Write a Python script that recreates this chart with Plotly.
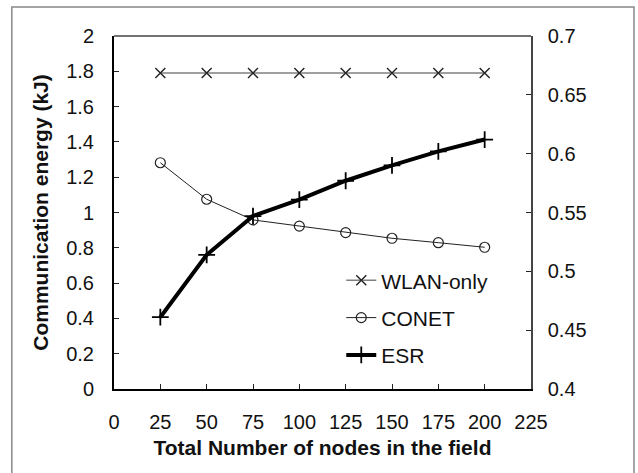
import plotly.graph_objects as go

nodes = [25, 50, 75, 100, 125, 150, 175, 200]
wlan_only = [1.79, 1.79, 1.79, 1.79, 1.79, 1.79, 1.79, 1.79]
conet = [1.282, 1.075, 0.958, 0.923, 0.886, 0.854, 0.829, 0.803]
esr = [0.461, 0.514, 0.547, 0.561, 0.577, 0.590, 0.602, 0.612]

x_ticks = [0, 25, 50, 75, 100, 125, 150, 175, 200, 225]
left_ticks = [0, 0.2, 0.4, 0.6, 0.8, 1.0, 1.2, 1.4, 1.6, 1.8, 2.0]
left_labels = ["0", "0.2", "0.4", "0.6", "0.8", "1", "1.2", "1.4", "1.6", "1.8", "2"]
right_ticks = [0.4, 0.45, 0.5, 0.55, 0.6, 0.65, 0.7]
right_labels = ["0.4", "0.45", "0.5", "0.55", "0.6", "0.65", "0.7"]

FONT = "Liberation Sans, Arial, sans-serif"

fig = go.Figure()
fig.add_trace(go.Scatter(
    x=nodes, y=wlan_only, name="WLAN-only", mode="lines+markers", legendgroup="a",
    line=dict(color="#7f7f7f", width=1.6),
    marker=dict(symbol="x-thin", size=10, line=dict(color="#222", width=1.4)),
))
fig.add_trace(go.Scatter(
    x=nodes, y=conet, name="CONET", mode="lines+markers", legendgroup="b",
    line=dict(color="#222", width=1),
    marker=dict(symbol="circle-open", size=10, color="#222", line=dict(width=1.2)),
))
fig.add_trace(go.Scatter(
    x=nodes, y=esr, name="ESR", mode="lines+markers", yaxis="y2", legendgroup="c",
    line=dict(color="#000", width=4),
    marker=dict(symbol="cross-thin", size=12, line=dict(color="#000", width=1.8)),
))

fig.update_layout(
    width=638, height=473,
    margin=dict(l=114, r=107, t=36, b=84),
    paper_bgcolor="white", plot_bgcolor="white",
    font=dict(family=FONT, size=20, color="#111"),
    showlegend=True,
    legend=dict(x=0.545, y=0.365, xanchor="left", yanchor="top",
                bgcolor="rgba(0,0,0,0)", font=dict(size=21, color="#111"),
                itemwidth=30, tracegroupgap=7),
    xaxis=dict(range=[0, 225], tickvals=x_ticks, showgrid=False, zeroline=False,
               showline=True, linecolor="#000", linewidth=2,
               ticks="inside", ticklen=5, tickcolor="#222", ticklabelstandoff=14,
               tickfont=dict(size=20),
               title=dict(text="<b>Total Number of nodes in the field</b>", standoff=8,
                          font=dict(size=21))),
    yaxis=dict(range=[0, 2], tickvals=left_ticks, ticktext=left_labels, showgrid=False,
               zeroline=False, showline=True, linecolor="#000", linewidth=2,
               ticks="inside", ticklen=5, tickcolor="#222", ticklabelstandoff=14,
               tickfont=dict(size=20),
               title=dict(text="<b>Communication energy (kJ)</b>", standoff=12,
                          font=dict(size=21))),
    yaxis2=dict(range=[0.4, 0.7], tickvals=right_ticks, ticktext=right_labels,
                overlaying="y", side="right", showgrid=False, zeroline=False,
                showline=True, linecolor="#444", linewidth=1.5,
                ticks="inside", ticklen=5, tickcolor="#222", ticklabelstandoff=11,
                tickfont=dict(size=20)),
    shapes=[
        dict(type="line", xref="paper", yref="paper", x0=0, x1=1, y0=1, y1=1,
             line=dict(color="#444", width=1.5)),
        dict(type="rect", xref="paper", yref="paper",
             x0=-0.245, x1=1.247, y0=-0.27, y1=1.082,
             line=dict(color="#888", width=1.5), layer="below"),
    ],
)

fig.write_html("out.html")
